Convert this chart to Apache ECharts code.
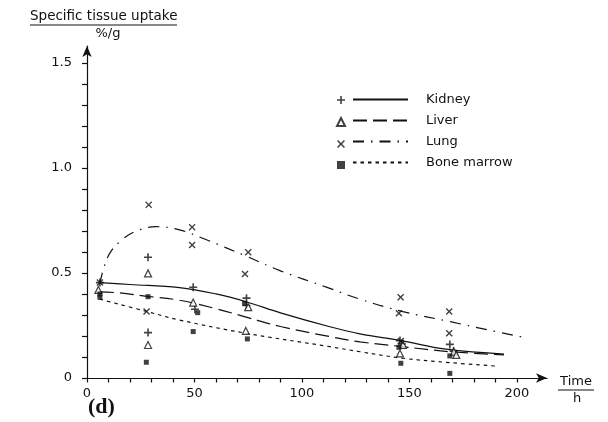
<!DOCTYPE html>
<html style="height:100%;width:100%;">
<head>
  <meta charset="utf-8">
  <title>Specific tissue uptake (d)</title>
  <script src="https://cdn.jsdelivr.net/npm/echarts@6.0.0/dist/echarts.min.js"></script>
</head>
<body style="margin:0;height:100%;width:100%;background:#fff;">
  <div id="main" style="width:608px;height:422px"></div>
  <script type="text/javascript">
    // measured points [time h, uptake %/g]
    var kidneyPts = [[6, 0.454], [28.4, 0.575], [28.4, 0.216], [49.4, 0.432], [50.2, 0.327],
      [74.2, 0.38], [74.2, 0.345], [145.6, 0.178], [146.5, 0.162], [168.8, 0.16], [170.5, 0.128]];
    var liverPts = [[5.3, 0.419], [28.4, 0.498], [28.4, 0.157], [49.4, 0.359], [75, 0.337],
      [73.9, 0.224], [147, 0.158], [145.6, 0.117], [170.7, 0.125], [171.8, 0.11]];
    var lungPts = [[6, 0.454], [28.7, 0.824], [27.7, 0.316], [48.9, 0.718], [48.9, 0.633],
      [75, 0.598], [73.5, 0.495], [145.9, 0.384], [145.1, 0.308], [146, 0.176], [168.5, 0.316], [168.5, 0.213]];
    var marrowPts = [[6, 0.4], [6, 0.384], [28.4, 0.387], [27.6, 0.075], [51.5, 0.311], [49.4, 0.221],
      [73.3, 0.356], [74.6, 0.186], [145.1, 0.146], [146, 0.07], [168.8, 0.105], [168.8, 0.022]];

    // fitted curves as drawn
    var kidneyFit = [[6, 0.454], [20, 0.445], [43, 0.43], [60, 0.4], [74, 0.363], [90, 0.31],
      [113, 0.244], [127, 0.21], [146, 0.178], [167, 0.137], [194, 0.114]];
    var liverFit = [[6, 0.41], [15, 0.405], [27, 0.39], [43, 0.37], [60, 0.33], [74, 0.29],
      [90, 0.245], [113, 0.197], [127, 0.172], [147, 0.149], [169, 0.125], [194, 0.11]];
    var lungFit = [[6, 0.45], [8, 0.53], [11, 0.6], [16, 0.655], [22, 0.695], [32, 0.72],
      [43, 0.705], [55, 0.66], [74, 0.58], [90, 0.51], [112, 0.43], [127, 0.375],
      [147, 0.316], [169, 0.268], [186, 0.23], [203, 0.194]];
    var marrowFit = [[6, 0.375], [28, 0.316], [43, 0.276], [74, 0.213], [113, 0.149], [127, 0.125],
      [147, 0.094], [169, 0.073], [190, 0.057]];

    var xLabels = [0, 50, 100, 150, 200];
    var xTicks = [0, 10, 20, 30, 40, 50, 60, 70, 80, 90, 100, 110, 120, 130, 140, 150, 160, 170, 180, 190, 200];
    var yLabels = [0, 0.5, 1.0, 1.5];
    var yTicks = [0, 0.1, 0.2, 0.3, 0.4, 0.5, 0.6, 0.7, 0.8, 0.9, 1.0, 1.1, 1.2, 1.3, 1.4, 1.5];
    var names = ['Kidney', 'Liver', 'Lung', 'Bone marrow'];

    var ink = '#111';
    var font = 'DejaVu Sans';
    var plusPath = 'path://M4,0H6V4H10V6H6V10H4V6H0V4H4Z';
    var crossPath = 'path://M0,1.4L1.4,0L5,3.6L8.6,0L10,1.4L6.4,5L10,8.6L8.6,10L5,6.4L1.4,10L0,8.6L3.6,5Z';

    var myChart = echarts.init(document.getElementById('main'));

    function fitLine(name, data, type) {
      return {
        name: name, type: 'line', data: data, smooth: 0.4, symbol: 'none',
        lineStyle: { color: ink, width: 1.2, type: type }, z: 2
      };
    }
    function pts(name, data, symbol, size, hollow) {
      return {
        name: name + ' pts', type: 'scatter', data: data, symbol: symbol, symbolSize: size,
        itemStyle: hollow ? { color: '#fff', borderColor: ink, borderWidth: 1.2 } : { color: ink },
        z: 3
      };
    }

    var option = {
      animation: false,
      backgroundColor: '#fff',
      grid: { left: 87, right: 61, top: 46, bottom: 44 },
      legend: [{
        data: names, orient: 'vertical', left: 352, top: 93, padding: 0,
        itemWidth: 55, itemHeight: 14, itemGap: 8, selectedMode: false,
        itemStyle: { opacity: 0, borderWidth: 0 },
        textStyle: { color: ink, fontSize: 13, fontFamily: font, padding: [0, 0, 0, 13] }
      }, {
        data: names.map(function (n) { return n + ' pts'; }),
        orient: 'vertical', left: 336, top: 96, padding: 0,
        itemWidth: 8, itemHeight: 8, itemGap: 13, selectedMode: false,
        formatter: function () { return ''; },
        textStyle: { fontSize: 8, lineHeight: 8 }
      }],
      xAxis: {
        type: 'value', min: 0, max: 214,
        axisLine: { onZero: false, lineStyle: { color: ink, width: 1.2 }, symbol: ['none', 'arrow'], symbolSize: [7, 11] },
        axisTick: { customValues: xTicks, length: 4.5, lineStyle: { color: ink, width: 1.2 } },
        axisLabel: { customValues: xLabels, margin: 9, color: ink, fontSize: 13, fontFamily: font },
        splitLine: { show: false }
      },
      yAxis: {
        type: 'value', min: 0, max: 1.58,
        axisLine: { show: true, onZero: false, lineStyle: { color: ink, width: 1.2 }, symbol: ['none', 'arrow'], symbolSize: [7, 11] },
        axisTick: { show: true, customValues: yTicks, length: 5, lineStyle: { color: ink, width: 1.2 } },
        axisLabel: {
          customValues: yLabels, margin: 15, color: ink, fontSize: 13, fontFamily: font,
          formatter: function (v) { return v === 0 ? '0' : v.toFixed(1); }
        },
        splitLine: { show: false }
      },
      series: [
        fitLine('Kidney', kidneyFit, 'solid'),
        fitLine('Liver', liverFit, [14, 6]),
        fitLine('Lung', lungFit, [11, 7, 1.5, 7]),
        fitLine('Bone marrow', marrowFit, [3.5, 4]),
        pts('Kidney', kidneyPts, plusPath, 8, false),
        pts('Liver', liverPts, 'triangle', 7, true),
        pts('Lung', lungPts, crossPath, 7, false),
        pts('Bone marrow', marrowPts, 'rect', 5, false)
      ],
      graphic: [
        { type: 'text', left: 30, top: 9, style: { text: 'Specific tissue uptake', fill: ink, font: '13.5px "DejaVu Sans"' } },
        { type: 'line', shape: { x1: 30, y1: 25, x2: 177, y2: 25 }, style: { stroke: ink, lineWidth: 1 } },
        { type: 'text', x: 108, y: 27, style: { text: '%/g', fill: ink, font: '13px "DejaVu Sans"', textAlign: 'center' } },
        { type: 'text', x: 576, y: 375, style: { text: 'Time', fill: ink, font: '13px "DejaVu Sans"', textAlign: 'center' } },
        { type: 'line', shape: { x1: 558, y1: 390, x2: 594, y2: 390 }, style: { stroke: ink, lineWidth: 1 } },
        { type: 'text', x: 577, y: 392, style: { text: 'h', fill: ink, font: '13px "DejaVu Sans"', textAlign: 'center' } },
        { type: 'text', left: 88, top: 396, style: { text: '(d)', fill: ink, font: 'bold 22px "Liberation Serif"' } }
      ]
    };

    myChart.setOption(option);
  </script>
</body>
</html>
